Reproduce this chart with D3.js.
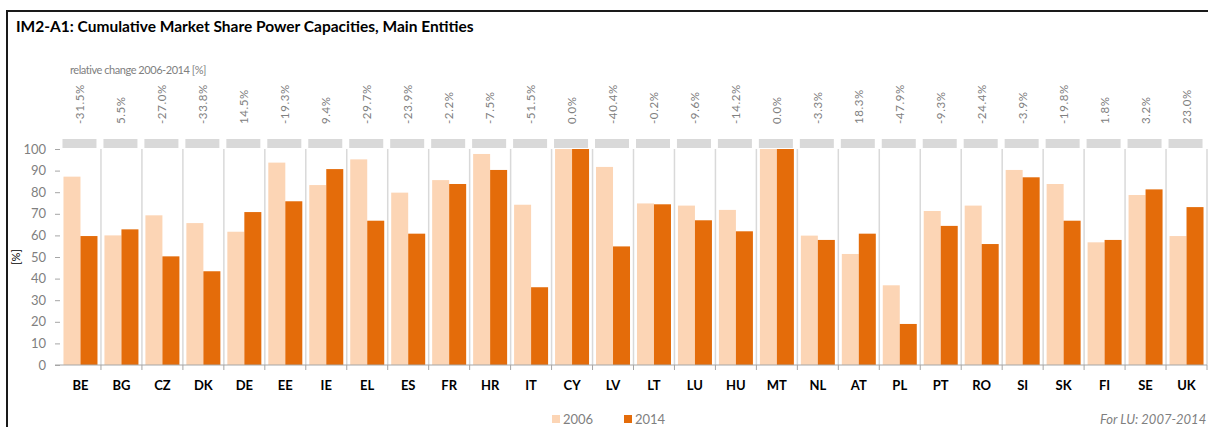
<!DOCTYPE html>
<html>
<head>
<meta charset="utf-8">
<script src="https://cdn.jsdelivr.net/npm/d3@7"></script>
<style>
  html, body { margin: 0; padding: 0; background: #fff; }
  svg { display: block; font-family: Lato, "Open Sans", sans-serif; }
</style>
</head>
<body>
<svg id="chart" width="1208" height="427"></svg>
<script>
const categories = ["BE","BG","CZ","DK","DE","EE","IE","EL","ES","FR","HR","IT","CY","LV","LT","LU","HU","MT","NL","AT","PL","PT","RO","SI","SK","FI","SE","UK"];
const values2006 = [87.2,60.0,69.3,65.7,61.7,93.7,83.3,95.2,79.8,85.6,97.7,74.2,100,91.7,74.8,73.8,71.8,100,59.9,51.4,36.9,71.3,73.8,90.3,83.8,56.8,78.7,59.7];
const values2014 = [59.7,62.8,50.3,43.4,70.8,75.8,90.7,66.8,60.8,83.8,90.3,36.0,100,54.9,74.4,67.0,61.9,100,57.9,60.8,19.0,64.4,56.0,86.9,66.8,57.9,81.3,73.1];
const relChange = ["-31.5%","5.5%","-27.0%","-33.8%","14.5%","-19.3%","9.4%","-29.7%","-23.9%","-2.2%","-7.5%","-51.5%","0.0%","-40.4%","-0.2%","-9.6%","-14.2%","0.0%","-3.3%","18.3%","-47.9%","-9.3%","-24.4%","-3.9%","-19.8%","1.8%","3.2%","23.0%"];
const seriesNames = ["2006","2014"];
const seriesColors = ["#fcd5b5","#e46c0a"];
const yTicks = [0,10,20,30,40,50,60,70,80,90,100];

const svg = d3.select("#chart");

// frame
svg.append("rect").attr("x", 7).attr("y", 11).attr("width", 1400).attr("height", 600)
  .attr("fill", "none").attr("stroke", "#1a1a1a").attr("stroke-width", 2);

// title
svg.append("text").attr("x", 16).attr("y", 32)
  .attr("font-size", 15.5).attr("font-weight", "bold").attr("fill", "#000")
  .text("IM2-A1: Cumulative Market Share Power Capacities, Main Entities");

const x = d3.scaleBand().domain(categories).range([60, 1207]).paddingInner(0.17).paddingOuter(0.085);
const x1 = d3.scaleBand().domain(seriesNames).range([0, x.bandwidth()]);
const y = d3.scaleLinear().domain([0, 100]).range([365, 149]);
const step = x.step();

// relative change header
svg.append("text").attr("x", 70).attr("y", 74).attr("font-size", 11).attr("fill", "#808080")
  .attr("letter-spacing", -0.45)
  .text("relative change 2006-2014 [%]");

svg.append("g").selectAll("text").data(categories).join("text")
  .attr("transform", (d) => `translate(${x(d) + x.bandwidth() / 2 + 4},124) rotate(-90)`)
  .attr("text-anchor", "start")
  .attr("font-size", 11.5).attr("fill", "#808080")
  .attr("letter-spacing", 0.6)
  .text((d, i) => relChange[i]);

// gray boxes
svg.append("g").selectAll("rect").data(categories).join("rect")
  .attr("x", (d) => x(d) - 1).attr("y", 139).attr("width", x.bandwidth()).attr("height", 9)
  .attr("fill", "#d9d9d9");

// separators
svg.append("g").selectAll("line").data(d3.range(1, categories.length + 1)).join("line")
  .attr("x1", (i) => 60 + i * step).attr("x2", (i) => 60 + i * step)
  .attr("y1", y(100)).attr("y2", y(0))
  .attr("stroke", "#d9d9d9").attr("stroke-width", 1.5);

// bars
const groups = svg.append("g").selectAll("g").data(categories).join("g")
  .attr("transform", (d) => `translate(${x(d)},0)`);
groups.selectAll("rect").data((d, i) => [
  { s: "2006", v: values2006[i] },
  { s: "2014", v: values2014[i] }
]).join("rect")
  .attr("x", (d) => x1(d.s)).attr("width", x1.bandwidth())
  .attr("y", (d) => y(d.v)).attr("height", (d) => y(0) - y(d.v))
  .attr("fill", (d, j) => seriesColors[j]);

// y axis
const yAxis = svg.append("g").attr("transform", "translate(60,0)")
  .call(d3.axisLeft(y).tickValues(yTicks).tickSize(5).tickPadding(9));
yAxis.select(".domain").remove();
yAxis.selectAll("line").attr("stroke", "#a6a6a6");
yAxis.selectAll("text").attr("font-size", 13).attr("fill", "#7f7f7f").attr("font-family", "Lato, sans-serif");

svg.append("text").attr("transform", "translate(20,257) rotate(-90)")
  .attr("text-anchor", "middle").attr("font-size", 11).attr("fill", "#000")
  .text("[%]");

// x axis
svg.append("line").attr("x1", 55).attr("x2", 1207).attr("y1", y(0)).attr("y2", y(0))
  .attr("stroke", "#a6a6a6").attr("stroke-width", 1);
svg.append("g").selectAll("line").data(d3.range(1, categories.length + 1)).join("line")
  .attr("x1", (i) => 60 + i * step).attr("x2", (i) => 60 + i * step)
  .attr("y1", y(0)).attr("y2", y(0) + 5)
  .attr("stroke", "#a6a6a6");
svg.append("g").selectAll("text").data(categories).join("text")
  .attr("x", (d) => x(d) + x.bandwidth() / 2).attr("y", 390)
  .attr("text-anchor", "middle").attr("font-size", 13).attr("font-weight", "bold").attr("fill", "#000")
  .text((d) => d);

// legend
const legendX = [552, 624];
const lg = svg.append("g").selectAll("g").data(seriesNames).join("g")
  .attr("transform", (d, i) => `translate(${legendX[i]},415)`);
lg.append("rect").attr("width", 8).attr("height", 8).attr("fill", (d, i) => seriesColors[i]);
lg.append("text").attr("x", 11).attr("y", 8.5).attr("font-size", 13).attr("fill", "#7f7f7f").text((d) => d);

svg.append("text").attr("x", 1100).attr("y", 424).attr("font-size", 13).attr("font-style", "italic")
  .attr("fill", "#7f7f7f").text("For LU: 2007-2014");
</script>
</body>
</html>
